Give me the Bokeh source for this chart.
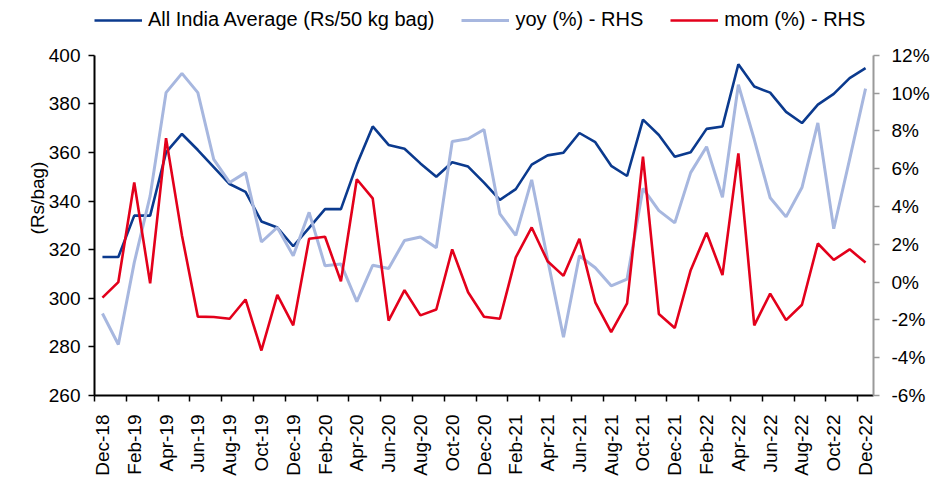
from math import pi
from bokeh.plotting import figure
from bokeh.models import (Range1d, LinearAxis, FixedTicker, Legend, LegendItem,
                          ColumnDataSource)
from bokeh.embed import file_html
from bokeh.resources import INLINE

months = ["Dec-18", "Jan-19", "Feb-19", "Mar-19", "Apr-19", "May-19", "Jun-19",
          "Jul-19", "Aug-19", "Sep-19", "Oct-19", "Nov-19", "Dec-19", "Jan-20",
          "Feb-20", "Mar-20", "Apr-20", "May-20", "Jun-20", "Jul-20", "Aug-20",
          "Sep-20", "Oct-20", "Nov-20", "Dec-20", "Jan-21", "Feb-21", "Mar-21",
          "Apr-21", "May-21", "Jun-21", "Jul-21", "Aug-21", "Sep-21", "Oct-21",
          "Nov-21", "Dec-21", "Jan-22", "Feb-22", "Mar-22", "Apr-22", "May-22",
          "Jun-22", "Jul-22", "Aug-22", "Sep-22", "Oct-22", "Nov-22", "Dec-22"]

avg = [317, 317, 334, 334, 360, 367.6, 361, 354, 347, 343.8, 331.6, 329.1, 321.4,
       329, 336.7, 336.7, 355, 370.7, 363.1, 361.5, 355.5, 350, 356, 354.2, 347.6,
       340.5, 344.9, 355, 358.8, 359.9, 368, 364.2, 354.5, 350.3, 373.5, 367.2,
       358.2, 360.1, 369.7, 370.7, 396.3, 387.1, 384.6, 376.7, 372.1, 379.7, 384.1,
       390.6, 394.7]

yoy = [-1.66, -3.3, 1.03, 4.56, 10.02, 11.04, 10.02, 6.49, 5.27, 5.79, 2.12, 2.89,
       1.39, 3.69, 0.86, 0.96, -1.03, 0.89, 0.72, 2.2, 2.38, 1.81, 7.44, 7.58, 8.07,
       3.61, 2.47, 5.41, 1.2, -2.92, 1.39, 0.76, -0.2, 0.16, 4.95, 3.78, 3.13, 5.79,
       7.16, 4.48, 10.44, 7.54, 4.46, 3.45, 5.0, 8.42, 2.82, 6.5, 10.23]

mom = [-0.82, 0.0, 5.27, -0.07, 7.61, 2.47, -1.83, -1.85, -1.94, -0.92, -3.62, -0.68,
       -2.29, 2.29, 2.4, 0.04, 5.44, 4.43, -2.04, -0.43, -1.76, -1.45, 1.73, -0.54,
       -1.83, -1.94, 1.31, 2.89, 1.1, 0.33, 2.29, -1.07, -2.65, -1.13, 6.63, -1.69,
       -2.43, 0.63, 2.61, 0.37, 6.81, -2.29, -0.61, -2.01, -1.2, 2.04, 1.17, 1.73, 1.03]

left_ticks = [260, 280, 300, 320, 340, 360, 380, 400]
right_ticks = [-6, -4, -2, 0, 2, 4, 6, 8, 10, 12]

names = ["All India Average (Rs/50 kg bag)", "yoy (%) - RHS", "mom (%) - RHS"]
colors = ["#0B3A8E", "#A7B7DF", "#E3001B"]

FONT = "Liberation Sans"
FS = "19px"

# layout: frame spans the full height above the x axis; the visible axes are
# bounded to their value ranges, leaving room for the legend at the top
H, W = 478, 949
FRAME_BOTTOM = 397        # pixel row of the x axis
AXIS_TOP = 55             # pixel row of the 400 / 12% ticks
frac = FRAME_BOTTOM / (FRAME_BOTTOM - AXIS_TOP)
left_end = left_ticks[0] + (left_ticks[-1] - left_ticks[0]) * frac
right_end = right_ticks[0] + (right_ticks[-1] - right_ticks[0]) * frac

src = ColumnDataSource(dict(x=list(range(len(months))), avg=avg, yoy=yoy, mom=mom))

p = figure(width=W, height=H, output_backend="svg", toolbar_location=None,
           x_range=Range1d(-0.5, len(months) - 0.5),
           y_range=Range1d(left_ticks[0], left_end),
           min_border_left=94, min_border_right=76, min_border_top=0,
           min_border_bottom=H - FRAME_BOTTOM)
p.outline_line_color = None
p.grid.visible = False
p.background_fill_color = "white"
p.border_fill_color = "white"
p.extra_y_ranges = {"pct": Range1d(right_ticks[0], right_end)}

# x axis
xa = p.xaxis[0]
even = list(range(0, len(months), 2))
xa.ticker = FixedTicker(ticks=even, minor_ticks=[i - 0.5 for i in even])
xa.major_label_overrides = {i: months[i] for i in even}
xa.major_label_orientation = pi / 2
xa.major_tick_out = 0
xa.major_tick_in = 0
xa.minor_tick_out = 6
xa.minor_tick_in = 0
xa.minor_tick_line_color = "black"
xa.minor_tick_line_width = 1.5
xa.axis_line_color = "black"
xa.axis_line_width = 2
xa.major_label_standoff = 13
xa.major_label_text_font = FONT
xa.major_label_text_font_size = FS
xa.major_label_text_color = "black"

# left axis
ya = p.yaxis[0]
ya.bounds = (left_ticks[0], left_ticks[-1])
ya.ticker = FixedTicker(ticks=left_ticks)
ya.minor_tick_line_color = None
ya.major_tick_out = 6
ya.major_tick_in = 0
ya.major_tick_line_width = 1.5
ya.axis_line_width = 2
ya.axis_line_color = "black"
ya.major_label_standoff = 8
ya.major_label_text_font = FONT
ya.major_label_text_font_size = FS
ya.major_label_text_color = "black"
ya.axis_label = "(Rs/bag)"
ya.axis_label_standoff = -2
ya.axis_label_text_font = FONT
ya.axis_label_text_font_size = FS
ya.axis_label_text_font_style = "normal"
ya.axis_label_text_color = "black"

# right axis
ra = LinearAxis(y_range_name="pct", ticker=FixedTicker(ticks=right_ticks),
                bounds=(right_ticks[0], right_ticks[-1]),
                major_label_overrides={v: f"{v}%" for v in right_ticks})
ra.minor_tick_line_color = None
ra.major_tick_out = 6
ra.major_tick_in = 0
ra.axis_line_color = "#9A9A9A"
ra.major_tick_line_color = "#9A9A9A"
ra.axis_line_width = 2
ra.major_tick_line_width = 1.5
ra.major_label_standoff = 12
ra.major_label_text_font = FONT
ra.major_label_text_font_size = FS
ra.major_label_text_color = "black"
p.add_layout(ra, "right")

r1 = p.line("x", "avg", source=src, color=colors[0], line_width=2.6)
r2 = p.line("x", "yoy", source=src, color=colors[1], line_width=3, y_range_name="pct")
r3 = p.line("x", "mom", source=src, color=colors[2], line_width=2.6, y_range_name="pct")

legend = Legend(items=[LegendItem(label=names[0], renderers=[r1]),
                       LegendItem(label=names[1], renderers=[r2]),
                       LegendItem(label=names[2], renderers=[r3])],
                orientation="horizontal", location=(0, FRAME_BOTTOM - 33),
                border_line_color=None, background_fill_alpha=0,
                label_text_font=FONT, label_text_font_size="20px",
                label_text_color="black",
                glyph_width=48, glyph_height=20, label_height=20,
                label_standoff=6, spacing=27, padding=0, margin=0)
p.add_layout(legend, "center")

open("out.html", "w").write(file_html(p, INLINE))
